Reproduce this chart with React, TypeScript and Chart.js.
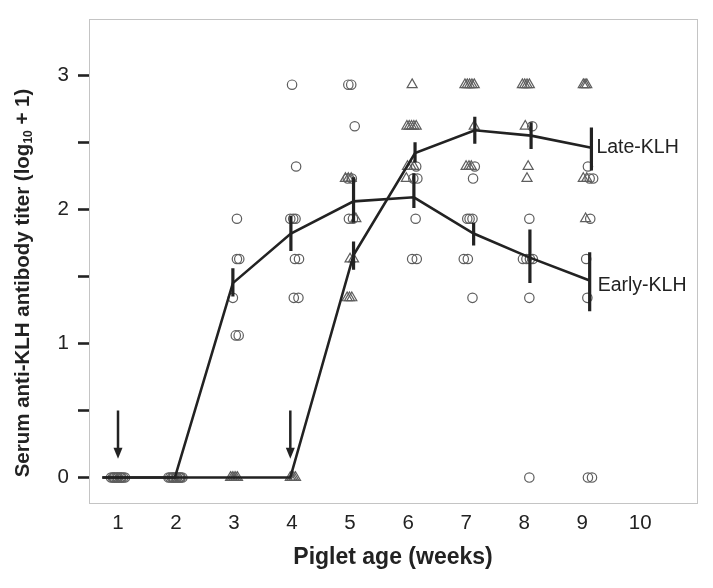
import React, { useEffect, useRef } from 'react';
import { Chart, registerables } from 'chart.js';
Chart.register(...registerables);

const weekTicks = [1, 2, 3, 4, 5, 6, 7, 8, 9, 10];
const yTickValues = [0, 0.5, 1, 1.5, 2, 2.5, 3];

// Individual piglets, Early-KLH (circles): x = week position as read, y = titer
const earlyX = [
  0.88, 0.91, 0.94, 0.97, 1.0, 1.03, 1.06, 1.09, 1.12, 0.93, 0.99, 1.05,
  1.87, 1.9, 1.93, 1.96, 1.99, 2.02, 2.05, 2.08, 2.11, 1.95, 2.01, 2.07,
  3.05, 3.05, 3.09, 2.98, 3.03, 3.08,
  4.0, 4.07, 3.97, 4.02, 4.06, 4.05, 4.12, 4.03, 4.11,
  4.97, 5.02, 5.08, 4.96, 5.03, 4.98, 5.05,
  6.14, 6.09, 6.16, 6.13, 6.07, 6.15,
  7.15, 7.12, 7.02, 7.06, 7.11, 6.96, 7.03, 7.11,
  8.14, 8.09, 7.98, 8.04, 8.1, 8.15, 8.09, 8.09,
  9.1, 9.13, 9.19, 9.14, 9.07, 9.09, 9.1, 9.17,
];
const earlyY = [
  0, 0, 0, 0, 0, 0, 0, 0, 0, 0, 0, 0,
  0, 0, 0, 0, 0, 0, 0, 0, 0, 0, 0, 0,
  1.93, 1.63, 1.63, 1.34, 1.06, 1.06,
  2.93, 2.32, 1.93, 1.93, 1.93, 1.63, 1.63, 1.34, 1.34,
  2.93, 2.93, 2.62, 2.23, 2.23, 1.93, 1.93,
  2.32, 2.23, 2.23, 1.93, 1.63, 1.63,
  2.32, 2.23, 1.93, 1.93, 1.93, 1.63, 1.63, 1.34,
  2.62, 1.93, 1.63, 1.63, 1.63, 1.63, 1.34, 0,
  2.32, 2.23, 2.23, 1.93, 1.63, 1.34, 0, 0,
];

// Individual piglets, Late-KLH (triangles)
const lateX = [
  2.94, 2.97, 3.0, 3.03, 3.06,
  3.97, 4.0, 4.03, 4.06,
  4.92, 4.97, 5.02, 5.1, 5.0, 5.06, 4.95, 4.99, 5.03,
  6.07, 5.98, 6.02, 6.06, 6.1, 6.14, 5.99, 6.05, 6.1, 5.97,
  6.98, 7.02, 7.06, 7.1, 7.14, 7.14, 7.0, 7.05, 7.09,
  7.97, 8.01, 8.05, 8.09, 8.02, 8.07, 8.05,
  9.02, 9.05, 9.08, 9.02, 9.08, 9.06,
];
const lateY = [
  0, 0, 0, 0, 0,
  0, 0, 0, 0,
  2.23, 2.23, 2.23, 1.93, 1.63, 1.63, 1.34, 1.34, 1.34,
  2.93, 2.62, 2.62, 2.62, 2.62, 2.62, 2.32, 2.32, 2.32, 2.23,
  2.93, 2.93, 2.93, 2.93, 2.93, 2.62, 2.32, 2.32, 2.32,
  2.93, 2.93, 2.93, 2.93, 2.62, 2.32, 2.23,
  2.93, 2.93, 2.93, 2.23, 2.23, 1.93,
];

// Group means and error-bar ends
const earlyMeanX = [0.73, 1.98, 2.98, 3.98, 5.06, 6.1, 7.13, 8.1, 9.13];
const earlyMean = [0, 0, 1.45, 1.82, 2.06, 2.09, 1.82, 1.64, 1.47];
const earlyLow = [null, null, 1.35, 1.69, 1.9, 2.01, 1.73, 1.45, 1.24];
const earlyHigh = [null, null, 1.56, 1.95, 2.24, 2.27, 1.9, 1.85, 1.68];

const lateMeanX = [0.73, 2.0, 3.0, 3.97, 5.06, 6.12, 7.15, 8.12, 9.16];
const lateMean = [0, 0, 0, 0, 1.66, 2.42, 2.59, 2.55, 2.46];
const lateLow = [null, null, null, null, 1.55, 2.35, 2.49, 2.45, 2.29];
const lateHigh = [null, null, null, null, 1.76, 2.5, 2.69, 2.65, 2.61];

const seriesLabels = ['Early-KLH', 'Late-KLH'];
const arrowWeeks = [1.0, 3.97];
const arrowTop = 0.5;
const arrowTip = 0.14;

const FONT = '"Liberation Sans", Arial, Helvetica, sans-serif';
const INK = '#222222';
const MARK = '#5e5e5e';

function pts(xs: number[], ys: number[]) {
  return xs.map((x, i) => ({ x, y: ys[i] }));
}
function errSegments(xs: number[], lo: (number | null)[], hi: (number | null)[]) {
  const out: any[] = [];
  xs.forEach((x, i) => {
    if (lo[i] == null || hi[i] == null) return;
    out.push({ x, y: lo[i] });
    out.push({ x, y: hi[i] });
    out.push({ x, y: null });
  });
  return out;
}

const decorPlugin = {
  id: 'decor',
  beforeDatasetsDraw(chart: any) {
    const { ctx, chartArea } = chart;
    ctx.save();
    ctx.strokeStyle = '#c4c4c4';
    ctx.lineWidth = 1;
    ctx.strokeRect(chartArea.left + 0.5, chartArea.top + 0.5, chartArea.right - chartArea.left, chartArea.bottom - chartArea.top);
    ctx.restore();
  },
  afterDraw(chart: any) {
    const { ctx, scales } = chart;
    const xs = scales.x;
    const ys = scales.y;
    ctx.save();
    // arrows
    ctx.strokeStyle = INK;
    ctx.fillStyle = INK;
    ctx.lineWidth = 2.5;
    arrowWeeks.forEach((w) => {
      const px = xs.getPixelForValue(w);
      const y1 = ys.getPixelForValue(arrowTop);
      const y2 = ys.getPixelForValue(arrowTip);
      ctx.beginPath();
      ctx.moveTo(px, y1);
      ctx.lineTo(px, y2 - 9);
      ctx.stroke();
      ctx.beginPath();
      ctx.moveTo(px - 4.5, y2 - 11);
      ctx.lineTo(px + 4.5, y2 - 11);
      ctx.lineTo(px, y2);
      ctx.closePath();
      ctx.fill();
    });
    // series labels
    ctx.font = `19.5px ${FONT}`;
    ctx.textBaseline = 'middle';
    ctx.textAlign = 'left';
    ctx.fillStyle = INK;
    const eI = earlyMean.length - 1;
    const lI = lateMean.length - 1;
    ctx.fillText(seriesLabels[0], xs.getPixelForValue(earlyMeanX[eI]) + 8, ys.getPixelForValue(earlyMean[eI]) + 5);
    ctx.fillText(seriesLabels[1], xs.getPixelForValue(lateMeanX[lI]) + 5, ys.getPixelForValue(lateMean[lI]));
    // x title
    ctx.font = `bold 23px ${FONT}`;
    ctx.textAlign = 'center';
    ctx.fillText('Piglet age (weeks)', (chart.chartArea.left + chart.chartArea.right) / 2, 558);
    // y title with subscript
    const main = 'Serum anti-KLH antibody titer (log';
    const sub = '10';
    const tail = ' + 1)';
    ctx.font = `bold 20.5px ${FONT}`;
    const w1 = ctx.measureText(main).width;
    const w3 = ctx.measureText(tail).width;
    ctx.font = `bold 12px ${FONT}`;
    const w2 = ctx.measureText(sub).width;
    const total = w1 + w2 + w3;
    ctx.translate(23, 283);
    ctx.rotate(-Math.PI / 2);
    ctx.textAlign = 'left';
    ctx.textBaseline = 'middle';
    let cx = -total / 2;
    ctx.font = `bold 20.5px ${FONT}`;
    ctx.fillText(main, cx, 0);
    cx += w1;
    ctx.font = `bold 12px ${FONT}`;
    ctx.fillText(sub, cx, 6);
    cx += w2;
    ctx.font = `bold 20.5px ${FONT}`;
    ctx.fillText(tail, cx, 0);
    ctx.restore();
  },
};

export default function App() {
  const ref = useRef<HTMLCanvasElement>(null);
  useEffect(() => {
    if (!ref.current) return;
    const chart = new Chart(ref.current, {
      type: 'scatter',
      data: {
        datasets: [
          {
            label: 'early-err',
            data: errSegments(earlyMeanX, earlyLow, earlyHigh),
            showLine: true,
            spanGaps: false,
            borderColor: INK,
            borderWidth: 3.2,
            pointRadius: 0,
            order: 1,
          } as any,
          {
            label: 'late-err',
            data: errSegments(lateMeanX, lateLow, lateHigh),
            showLine: true,
            spanGaps: false,
            borderColor: INK,
            borderWidth: 3.2,
            pointRadius: 0,
            order: 1,
          },
          {
            label: 'early-mean',
            data: pts(earlyMeanX, earlyMean),
            showLine: true,
            borderColor: INK,
            borderWidth: 2.6,
            pointRadius: 0,
            order: 1,
          },
          {
            label: 'late-mean',
            data: pts(lateMeanX, lateMean),
            showLine: true,
            borderColor: INK,
            borderWidth: 2.6,
            pointRadius: 0,
            order: 1,
          },
          {
            label: 'Early-KLH',
            data: pts(earlyX, earlyY),
            pointStyle: 'circle',
            pointRadius: 4.7,
            borderColor: MARK,
            backgroundColor: 'rgba(0,0,0,0)',
            borderWidth: 1.2,
            order: 3,
          },
          {
            label: 'Late-KLH',
            data: pts(lateX, lateY),
            pointStyle: 'triangle',
            pointRadius: 5.8,
            borderColor: MARK,
            backgroundColor: 'rgba(0,0,0,0)',
            borderWidth: 1.2,
            order: 3,
          },
        ],
      },
      options: {
        animation: false,
        responsive: false,
        layout: { padding: { top: 19, right: 16, left: 0, bottom: 0 } },
        plugins: { legend: { display: false }, tooltip: { enabled: false } },
        scales: {
          x: {
            type: 'linear',
            min: 0.5,
            max: 10.98,
            afterBuildTicks: (s: any) => {
              s.ticks = weekTicks.map((v) => ({ value: v }));
            },
            afterFit: (s: any) => {
              s.height = 85;
            },
            grid: { display: false, drawTicks: false },
            border: { display: false },
            ticks: {
              padding: 8,
              color: INK,
              font: { family: FONT, size: 20.5 },
              maxRotation: 0,
              callback: (v: any) => String(v),
            },
          },
          y: {
            type: 'linear',
            min: -0.19,
            max: 3.42,
            afterBuildTicks: (s: any) => {
              s.ticks = yTickValues.map((v) => ({ value: v }));
            },
            afterFit: (s: any) => {
              s.width = 89;
              s.paddingTop = 0;
              s.paddingBottom = 0;
            },
            grid: {
              drawOnChartArea: false,
              drawTicks: true,
              tickLength: 11,
              tickColor: INK,
              tickWidth: 2.6,
            },
            border: { display: false },
            ticks: {
              padding: 9,
              color: INK,
              font: { family: FONT, size: 20.5, lineHeight: 1 },
              callback: (v: any) => (Number.isInteger(v) ? String(v) : ''),
            },
          },
        },
      },
      plugins: [decorPlugin],
    });
    return () => chart.destroy();
  }, []);
  return (
    <div style={{ position: 'fixed', left: 0, top: 0, width: 713, height: 588, background: '#fff' }}>
      <canvas ref={ref} width={713} height={588} style={{ display: 'block' }} />
    </div>
  );
}
